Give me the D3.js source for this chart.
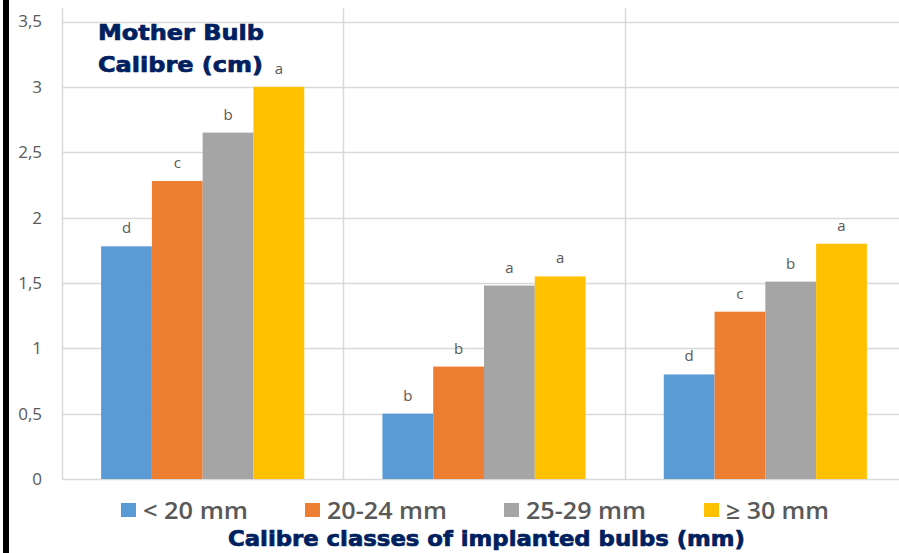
<!DOCTYPE html>
<html>
<head>
<meta charset="utf-8">
<script src="https://cdn.jsdelivr.net/npm/d3@7"></script>
<style>
  body { margin: 0; background: #fff; }
  svg { display: block; }
</style>
</head>
<body>
<script>
// data
var groups = ["g1", "g2", "g3"];
var series = ["< 20 mm", "20-24 mm", "25-29 mm", "\u2265 30 mm"];
var colors = ["#5B9BD5", "#ED7D31", "#A5A5A5", "#FFC000"];
var values = [
  [1.78, 2.28, 2.65, 3.0],
  [0.5, 0.86, 1.48, 1.55],
  [0.8, 1.28, 1.51, 1.8]
];
var letters = [
  ["d", "c", "b", "a"],
  ["b", "b", "a", "a"],
  ["d", "c", "b", "a"]
];
var yTicks = [0, 0.5, 1, 1.5, 2, 2.5, 3, 3.5];

var W = 899, H = 553;
var plot = { left: 62, right: 906, top: 8, bottom: 479 };
var heavy = "'DejaVu Sans', Verdana, sans-serif";

var svg = d3.select("body").append("svg")
  .attr("width", W)
  .attr("height", H);

// black strip on the left edge
svg.append("rect")
  .attr("x", 3).attr("y", 0)
  .attr("width", 6).attr("height", H)
  .attr("fill", "#000");

var x0 = d3.scaleBand()
  .domain(groups)
  .range([plot.left, plot.right]);

var x1 = d3.scaleBand()
  .domain(series)
  .range([0, x0.bandwidth()])
  .paddingOuter(0.77);

var y = d3.scaleLinear()
  .domain([0, 3.5])
  .range([plot.bottom, 21.5]);

// horizontal gridlines
svg.append("g")
  .selectAll("line")
  .data(yTicks)
  .enter()
  .append("line")
  .attr("x1", plot.left)
  .attr("x2", W)
  .attr("y1", function(d) { return Math.round(y(d)) + 0.5; })
  .attr("y2", function(d) { return Math.round(y(d)) + 0.5; })
  .attr("stroke", "#D9D9D9")
  .attr("stroke-width", 1.5);

// vertical category separators
var seps = [plot.left].concat(groups.map(function(g) { return x0(g) + x0.bandwidth(); }));
svg.append("g")
  .selectAll("line")
  .data(seps)
  .enter()
  .append("line")
  .attr("x1", function(d) { return Math.round(d) + 0.5; })
  .attr("x2", function(d) { return Math.round(d) + 0.5; })
  .attr("y1", plot.top)
  .attr("y2", plot.bottom)
  .attr("stroke", "#D9D9D9")
  .attr("stroke-width", 1.5);

// y axis labels
var yAxis = d3.axisLeft(y)
  .tickValues(yTicks)
  .tickSize(0)
  .tickPadding(0)
  .tickFormat(function(d) { return String(d).replace(".", ","); });

var ya = svg.append("g")
  .attr("transform", "translate(42,0)")
  .call(yAxis);
ya.select(".domain").remove();
ya.selectAll("text")
  .attr("fill", "#595959")
  .style("font-family", "'Open Sans', sans-serif")
  .style("font-size", "17px");

// bars
var grp = svg.append("g")
  .selectAll("g")
  .data(values)
  .enter()
  .append("g")
  .attr("transform", function(d, i) { return "translate(" + x0(groups[i]) + ",0)"; });

grp.selectAll("rect")
  .data(function(d) { return d; })
  .enter()
  .append("rect")
  .attr("x", function(d, i) { return x1(series[i]); })
  .attr("y", function(d) { return y(d); })
  .attr("width", x1.bandwidth())
  .attr("height", function(d) { return y(0) - y(d); })
  .attr("fill", function(d, i) { return colors[i]; });

// significance letters
grp.selectAll("text")
  .data(function(d, i) { return d.map(function(v, j) { return { v: v, l: letters[i][j], s: series[j] }; }); })
  .enter()
  .append("text")
  .attr("x", function(d) { return x1(d.s) + x1.bandwidth() / 2; })
  .attr("y", function(d) { return y(d.v) - 13; })
  .attr("text-anchor", "middle")
  .attr("fill", "#595959")
  .style("font-family", "'Open Sans', sans-serif")
  .style("font-size", "15px")
  .text(function(d) { return d.l; });

// title in the top left
var title = svg.append("text")
  .attr("fill", "#002060")
  .attr("stroke", "#002060")
  .attr("stroke-width", 0.7)
  .style("font-family", heavy)
  .style("font-weight", "bold")
  .style("font-size", "21px");
title.append("tspan").attr("x", 98).attr("y", 40)
  .attr("textLength", 166).attr("lengthAdjust", "spacingAndGlyphs").text("Mother Bulb");
title.append("tspan").attr("x", 98).attr("y", 72)
  .attr("textLength", 165).attr("lengthAdjust", "spacingAndGlyphs").text("Calibre (cm)");

// legend
var legendX = [121, 305, 504, 704];
var legendW = [105, 120, 120, 103];
var legend = svg.append("g")
  .selectAll("g")
  .data(series)
  .enter()
  .append("g")
  .attr("transform", function(d, i) { return "translate(" + legendX[i] + ",503)"; });

legend.append("rect")
  .attr("width", 15)
  .attr("height", 14)
  .attr("fill", function(d, i) { return colors[i]; });

legend.append("text")
  .attr("x", 22)
  .attr("y", 15.5)
  .attr("fill", "#595959")
  .attr("textLength", function(d, i) { return legendW[i]; })
  .attr("lengthAdjust", "spacingAndGlyphs")
  .style("font-family", "'Open Sans', sans-serif")
  .style("font-weight", "600")
  .style("font-size", "23px")
  .text(function(d) { return d; });

// x axis title
svg.append("text")
  .attr("x", 228)
  .attr("y", 546)
  .attr("fill", "#002060")
  .attr("stroke", "#002060")
  .attr("stroke-width", 0.7)
  .attr("textLength", 517)
  .attr("lengthAdjust", "spacingAndGlyphs")
  .style("font-family", heavy)
  .style("font-weight", "bold")
  .style("font-size", "21px")
  .text("Calibre classes of implanted bulbs (mm)");
</script>
</body>
</html>
